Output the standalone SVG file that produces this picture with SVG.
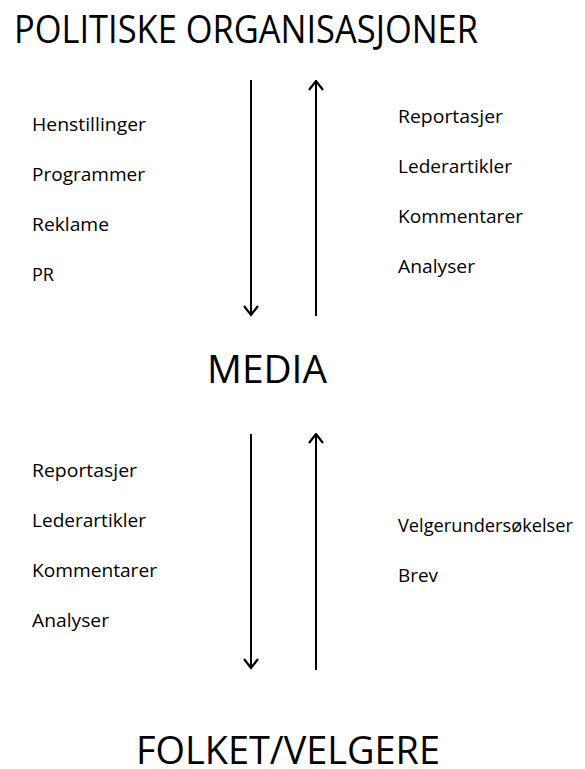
<svg xmlns="http://www.w3.org/2000/svg" width="585" height="769" viewBox="0 0 585 769">
<style>
.t{font-family:"Open Sans","Liberation Sans",sans-serif;fill:#000}
.big{font-size:39px}
.lbl{font-size:17.5px}
.c{stroke:#000;stroke-width:2;fill:none}
</style>
<defs>
<marker id="ah" viewBox="0 0 12 16" refX="10.5" refY="8" markerWidth="12" markerHeight="16" markerUnits="userSpaceOnUse" orient="auto">
<path d="M1.5,1 L10.5,8 L1.5,15" stroke="#000" stroke-width="2.2" fill="none"/>
</marker>
</defs>
<rect width="585" height="769" fill="#fff"/>
<g id="politiske"><text class="t big" x="14" y="43" textLength="464" lengthAdjust="spacingAndGlyphs">POLITISKE ORGANISASJONER</text></g>
<g id="media"><text class="t big" x="207" y="383" textLength="120" lengthAdjust="spacingAndGlyphs">MEDIA</text></g>
<g id="folket"><text class="t big" x="136" y="764" textLength="304" lengthAdjust="spacingAndGlyphs">FOLKET/VELGERE</text></g>
<g id="labels-top-left">
<text class="t lbl" x="32" y="131" textLength="114" lengthAdjust="spacingAndGlyphs">Henstillinger</text>
<text class="t lbl" x="32" y="181" textLength="113" lengthAdjust="spacingAndGlyphs">Programmer</text>
<text class="t lbl" x="32" y="231" textLength="77" lengthAdjust="spacingAndGlyphs">Reklame</text>
<text class="t lbl" x="32" y="281" textLength="22" lengthAdjust="spacingAndGlyphs">PR</text>
</g>
<g id="labels-top-right">
<text class="t lbl" x="398" y="123" textLength="105" lengthAdjust="spacingAndGlyphs">Reportasjer</text>
<text class="t lbl" x="398" y="173" textLength="114" lengthAdjust="spacingAndGlyphs">Lederartikler</text>
<text class="t lbl" x="398" y="223" textLength="125" lengthAdjust="spacingAndGlyphs">Kommentarer</text>
<text class="t lbl" x="398" y="273" textLength="77" lengthAdjust="spacingAndGlyphs">Analyser</text>
</g>
<g id="labels-bottom-left">
<text class="t lbl" x="32" y="477" textLength="105" lengthAdjust="spacingAndGlyphs">Reportasjer</text>
<text class="t lbl" x="32" y="527" textLength="114" lengthAdjust="spacingAndGlyphs">Lederartikler</text>
<text class="t lbl" x="32" y="577" textLength="125" lengthAdjust="spacingAndGlyphs">Kommentarer</text>
<text class="t lbl" x="32" y="627" textLength="77" lengthAdjust="spacingAndGlyphs">Analyser</text>
</g>
<g id="labels-bottom-right">
<text class="t lbl" x="398" y="532" textLength="175" lengthAdjust="spacingAndGlyphs">Velgerundersøkelser</text>
<text class="t lbl" x="398" y="582" textLength="40" lengthAdjust="spacingAndGlyphs">Brev</text>
</g>
<g id="connectors">
<line class="c" x1="251" y1="80" x2="251" y2="315" marker-end="url(#ah)"/>
<line class="c" x1="316" y1="316" x2="316" y2="81" marker-end="url(#ah)"/>
<line class="c" x1="251" y1="434" x2="251" y2="668" marker-end="url(#ah)"/>
<line class="c" x1="316" y1="670" x2="316" y2="434" marker-end="url(#ah)"/>
</g>
</svg>
